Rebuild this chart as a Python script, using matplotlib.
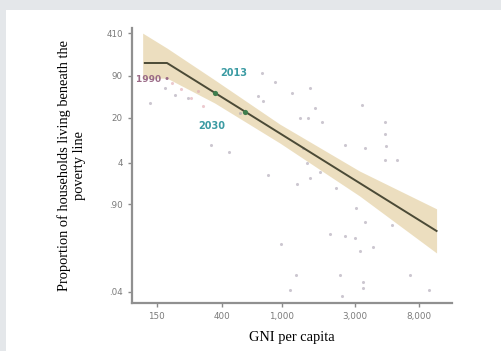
import matplotlib
matplotlib.use("Agg")
import matplotlib.pyplot as plt
from matplotlib.patches import Rectangle

# scattered country observations (GNI per capita, share below poverty line)
gni = [736, 895, 692, 747, 1160, 1520, 1310, 1480, 1830, 3350, 2590, 3500,
       1460, 1770, 4740, 4740, 4820, 4740, 5690, 805, 1250, 1520, 2260, 982,
       2060, 2590, 3010, 1230, 2400, 1120, 2470, 3060, 3500, 5270, 3240, 3960,
       3400, 3400, 6920, 9220, 340, 447, 135, 240, 1370, 1640, 527, 169, 197]
poverty = [98, 71, 43, 36, 48, 58, 20, 20, 17, 31, 7.5, 6.8,
           4.0, 2.9, 17, 11, 7.3, 4.4, 4.4, 2.6, 1.9, 2.3, 1.6, 0.22,
           0.31, 0.29, 0.27, 0.073, 0.073, 0.043, 0.034, 0.79, 0.48, 0.43, 0.17, 0.20,
           0.056, 0.046, 0.073, 0.043, 7.5, 5.9, 34, 40, 6.8, 28, 24, 58, 45]

# faint pinkish points close to the trend
gni_pink = [190, 215, 250, 300, 280]
poverty_pink = [70, 55, 40, 30, 52]

# fitted trend and confidence band
fit_x = [125, 175, 10400]
fit_y = [141, 141, 0.349]
band_x = [121, 175, 361, 966, 3240, 10400]
band_hi = [410, 240, 77, 15.9, 2.97, 0.77]
band_lo = [82, 82, 33.7, 8.1, 1.22, 0.159]

# highlighted years
year_x = [361, 569]
year_y = [48, 24.4]

yticks = [410, 90, 20, 4, 0.9, 0.04]
ytick_labels = ["410", "90", "20", "4", ".90", ".04"]
xticks = [150, 400, 1000, 3000, 8000]
xtick_labels = ["150", "400", "1,000", "3,000", "8,000"]

fig = plt.figure(figsize=(5.02, 3.51), dpi=100)
fig.patch.set_facecolor("#e4e7ea")
fig.patches.append(Rectangle((6 / 502, 0), 1, 1 - 10 / 351, transform=fig.transFigure,
                             facecolor="white", edgecolor="none", zorder=-5))

ax = fig.add_axes([0.263, 0.137, 0.637, 0.783])
ax.set_zorder(2)
ax.set_facecolor("none")
ax.set_xscale("log")
ax.set_yscale("log")
ax.set_xlim(103, 13100)
ax.set_ylim(0.0267, 491)

ax.fill_between(band_x, band_lo, band_hi, color="#e6d4aa", alpha=0.75,
                linewidth=0, zorder=1)
ax.scatter(gni, poverty, s=5, color="#aaa2b2", alpha=0.6, linewidths=0, zorder=2)
ax.scatter(gni_pink, poverty_pink, s=5, color="#e0a8b0", alpha=0.6, linewidths=0, zorder=2)
ax.plot(fit_x, fit_y, color="#4b4a36", linewidth=1.4, zorder=3)
ax.scatter(year_x, year_y, s=14, color="#3f7d4c", zorder=4, linewidths=0)

ax.text(141, 77, "1990 \u2022", color="#9a6a86", fontsize=6.5, fontweight="bold",
        ha="center", va="center", zorder=5)
ax.text(482, 98, "2013", color="#3b9ba3", fontsize=7, fontweight="bold",
        ha="center", va="center", zorder=5)
ax.text(345, 14.8, "2030", color="#3b9ba3", fontsize=7, fontweight="bold",
        ha="center", va="center", zorder=5)

ax.set_xticks(xticks)
ax.set_xticklabels(xtick_labels)
ax.set_yticks(yticks)
ax.set_yticklabels(ytick_labels)
ax.minorticks_off()
ax.tick_params(axis="both", colors="#8a8a8a", labelcolor="#7a7a7a", labelsize=6.3,
               length=3, width=1)

for side in ["top", "right"]:
    ax.spines[side].set_visible(False)
for side in ["left", "bottom"]:
    ax.spines[side].set_color("#909090")
    ax.spines[side].set_linewidth(1.6)

ax.set_xlabel("GNI per capita", family="Liberation Serif", fontsize=10.4, labelpad=7)
ax.set_ylabel("Proportion of households living beneath the\npoverty line",
              family="Liberation Serif", fontsize=10.4, labelpad=15)

fig.savefig("out.png", dpi=100, facecolor=fig.get_facecolor())
